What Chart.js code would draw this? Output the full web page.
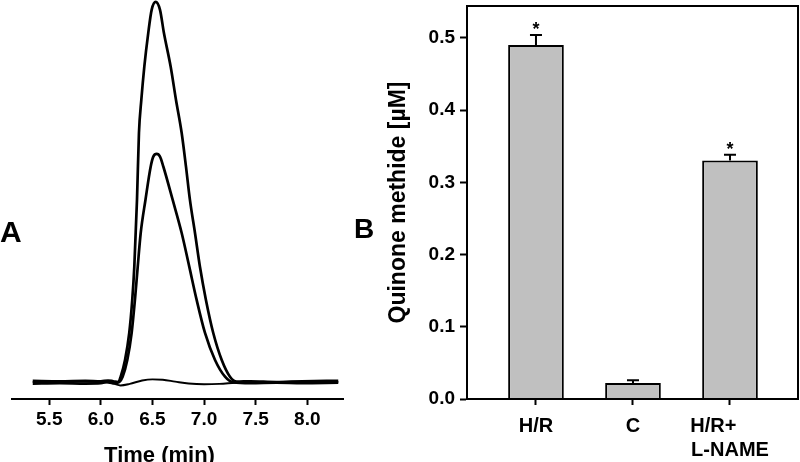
<!DOCTYPE html>
<html>
<head>
<meta charset="utf-8">
<script src="https://cdn.jsdelivr.net/npm/chart.js@4/dist/chart.umd.min.js"></script>
<style>
  html, body { margin: 0; padding: 0; background: #ffffff; width: 800px; height: 462px; overflow: hidden; }
  body { position: relative; font-family: "Liberation Sans", Arial, Helvetica, sans-serif; }
  #cA { position: absolute; left: 0; top: 0; }
  #cB { position: absolute; left: 380px; top: 0; }
  .panel { position: absolute; font-weight: bold; line-height: 1; color: #000; }
</style>
</head>
<body>
<canvas id="cA" width="360" height="462"></canvas>
<canvas id="cB" width="420" height="462"></canvas>
<div class="panel" style="left:0px; top:217px; font-size:30px;">A</div>
<div class="panel" style="left:354px; top:215px; font-size:28px;">B</div>
<script>
// ---------- Panel A data (chromatogram, arbitrary detector units) ----------
const timeHigh = [5.34, 5.60, 5.85, 6.00, 6.07, 6.12, 6.169, 6.192, 6.234, 6.275, 6.304, 6.324, 6.350, 6.369, 6.392, 6.421, 6.459, 6.492, 6.531, 6.573, 6.611, 6.676, 6.728, 6.783, 6.825, 6.863, 6.912, 6.960, 7.018, 7.089, 7.171, 7.251, 7.316, 7.45, 7.70, 7.95, 8.30];
const signalHigh = [0.3, 0.2, 0.3, 0.2, 0.4, 0.2, 0.0, 1.4, 5.8, 12.9, 21.6, 30.3, 47.9, 65.5, 74.2, 83.0, 91.8, 97.9, 100, 97.9, 91.8, 83.0, 74.2, 65.5, 56.6, 47.9, 39.2, 30.3, 21.6, 12.9, 5.8, 1.4, 0.1, 0.2, 0.0, 0.2, 0.3];

const timeMid = [5.34, 5.60, 5.85, 6.00, 6.07, 6.12, 6.178, 6.211, 6.256, 6.298, 6.330, 6.357, 6.386, 6.432, 6.483, 6.508, 6.541, 6.573, 6.605, 6.696, 6.783, 6.857, 6.928, 7.009, 7.106, 7.203, 7.283, 7.45, 7.70, 7.95, 8.30];
const signalMid = [-0.4, -0.3, -0.4, -0.3, 0.1, -0.3, 0.0, 1.4, 5.8, 12.9, 21.6, 30.3, 39.2, 47.9, 56.7, 59.3, 60.0, 59.3, 56.7, 47.9, 39.2, 30.3, 21.6, 12.9, 5.8, 1.4, -0.1, -0.3, -0.2, -0.3, -0.2];

const timeLow = [5.34, 5.70, 6.00, 6.12, 6.19, 6.28, 6.40, 6.50, 6.60, 6.72, 6.85, 7.00, 7.15, 7.30, 7.45, 7.70, 8.00, 8.30];
const signalLow = [0.0, 0.1, 0.0, -0.4, -0.9, -0.5, 0.4, 0.7, 0.6, 0.1, -0.4, -0.6, -0.5, -0.2, 0.0, 0.0, 0.1, 0.0];

const timeTicks = [5.5, 6.0, 6.5, 7.0, 7.5, 8.0];
const timeTitle = 'Time (min)';

// ---------- Panel B data ----------
const groups = [['H/R'], ['C'], ['H/R+', 'L-NAME']];
const quinoneMethide = [0.49, 0.022, 0.33];
const quinoneError = [0.014, 0.004, 0.008];
const significance = ['*', '', '*'];
const concTicks = [0, 0.1, 0.2, 0.3, 0.4, 0.5];
const concTitle = 'Quinone methide [\u00B5M]';

// ---------- common ----------
const FONT = "'Liberation Sans', Arial, Helvetica, sans-serif";
Chart.defaults.font.family = FONT;
Chart.defaults.color = '#000';

const toPoints = (xs, ys) => xs.map((x, i) => ({ x: x, y: ys[i] }));
const noScalePadding = (s) => { s.paddingTop = 0; s.paddingBottom = 0; s.paddingLeft = 0; s.paddingRight = 0; };

const timeTitlePlugin = {
  id: 'timeTitle',
  afterDraw(chart) {
    const { ctx, chartArea } = chart;
    ctx.save();
    ctx.font = 'bold 22px ' + FONT;
    ctx.fillStyle = '#000';
    ctx.textAlign = 'center';
    ctx.textBaseline = 'alphabetic';
    ctx.fillText(timeTitle, chartArea.left + 147.5, chart.height - 0.5);
    ctx.restore();
  }
};

const traceStyle = (w) => ({
  borderColor: '#000', borderWidth: w, pointRadius: 0, fill: false,
  cubicInterpolationMode: 'monotone', clip: false
});

new Chart(document.getElementById('cA'), {
  type: 'line',
  data: {
    datasets: [
      Object.assign({ label: 'high', data: toPoints(timeHigh, signalHigh) }, traceStyle(2.7)),
      Object.assign({ label: 'mid', data: toPoints(timeMid, signalMid) }, traceStyle(2.7)),
      Object.assign({ label: 'low', data: toPoints(timeLow, signalLow) }, traceStyle(1.9))
    ]
  },
  options: {
    responsive: false,
    animation: false,
    events: [],
    layout: { padding: { left: 12, right: 17, top: 0, bottom: 0 } },
    plugins: { legend: { display: false }, tooltip: { enabled: false } },
    scales: {
      x: {
        type: 'linear', min: 5.139, max: 8.346,
        afterBuildTicks: (s) => { s.ticks = timeTicks.map(v => ({ value: v })); },
        afterFit: (s) => { s.height = 63; noScalePadding(s); },
        ticks: { callback: (v) => Number(v).toFixed(1), font: { size: 19, weight: 'bold' }, color: '#000', padding: 3, maxRotation: 0, autoSkip: false },
        grid: { display: true, drawOnChartArea: false, drawTicks: true, tickLength: 6, tickWidth: 2, tickColor: '#000', offset: false },
        border: { display: true, color: '#000', width: 2 },
        title: { display: false }
      },
      y: { display: false, min: -4.47, max: 100.5 }
    }
  },
  plugins: [timeTitlePlugin]
});

// ---------- Panel B ----------
const measureCtx = document.createElement('canvas').getContext('2d');
function leftAlignLines(lines, font) {
  if (lines.length < 2) return lines;
  measureCtx.font = font;
  const widths = lines.map(l => measureCtx.measureText(l).width);
  const maxW = Math.max.apply(null, widths);
  const sp = measureCtx.measureText(' ').width;
  return lines.map((l, i) => l + ' '.repeat(Math.round((maxW - widths[i]) / sp)));
}

const barExtrasPlugin = {
  id: 'barExtras',
  afterDatasetsDraw(chart) {
    const { ctx, chartArea } = chart;
    const y = chart.scales.y;
    const meta = chart.getDatasetMeta(0);
    ctx.save();
    ctx.strokeStyle = '#000';
    ctx.fillStyle = '#000';
    ctx.lineWidth = 2;
    meta.data.forEach((bar, i) => {
      const base = y.getPixelForValue(quinoneMethide[i]);
      const top = y.getPixelForValue(quinoneMethide[i] + quinoneError[i]);
      ctx.beginPath();
      ctx.moveTo(bar.x, base);
      ctx.lineTo(bar.x, top);
      ctx.moveTo(bar.x - 6, top);
      ctx.lineTo(bar.x + 6, top);
      ctx.stroke();
      if (significance[i]) {
        ctx.font = 'bold 18px ' + FONT;
        ctx.textAlign = 'center';
        ctx.textBaseline = 'alphabetic';
        ctx.fillText(significance[i], bar.x, top);
      }
    });
    ctx.strokeRect(chartArea.left, chartArea.top, chartArea.right - chartArea.left, chartArea.bottom - chartArea.top);
    ctx.restore();
  }
};

new Chart(document.getElementById('cB'), {
  type: 'bar',
  data: {
    datasets: [{
      label: 'Quinone methide',
      data: toPoints(groups.map((g, i) => i), quinoneMethide),
      backgroundColor: '#c0c0c0',
      borderColor: '#000',
      borderWidth: 2,
      barPercentage: 0.574,
      categoryPercentage: 1.0
    }]
  },
  options: {
    responsive: false,
    animation: false,
    events: [],
    layout: { padding: { left: 0, right: 2, top: 6, bottom: 0 } },
    plugins: { legend: { display: false }, tooltip: { enabled: false } },
    scales: {
      x: {
        type: 'linear', min: -0.711, max: 2.701, offset: false,
        afterBuildTicks: (s) => { s.ticks = groups.map((g, i) => ({ value: i })); },
        afterFit: (s) => { s.height = 63; noScalePadding(s); },
        ticks: {
          callback: (v) => { const g = groups[v]; return g ? leftAlignLines(g, 'bold 20px ' + FONT) : null; },
          font: { size: 20, weight: 'bold', lineHeight: 1.17 }, color: '#000', padding: 10, maxRotation: 0, autoSkip: false
        },
        grid: { display: true, drawOnChartArea: false, drawTicks: true, tickLength: 6, tickWidth: 2, tickColor: '#000', offset: false },
        border: { display: true, color: '#000', width: 2 }
      },
      y: {
        min: 0, max: 0.544,
        afterBuildTicks: (s) => { s.ticks = concTicks.map(v => ({ value: v })); },
        afterFit: (s) => { s.width = 87; noScalePadding(s); },
        ticks: { callback: (v) => Number(v).toFixed(1), font: { size: 19, weight: 'bold' }, color: '#000', padding: 5 },
        grid: { display: true, drawOnChartArea: false, drawTicks: true, tickLength: 7, tickWidth: 2, tickColor: '#000' },
        border: { display: true, color: '#000', width: 2 },
        title: { display: true, text: concTitle, font: { size: 23, weight: 'bold' }, color: '#000', padding: { top: 5, bottom: 0 } }
      }
    }
  },
  plugins: [barExtrasPlugin]
});
</script>
</body>
</html>
